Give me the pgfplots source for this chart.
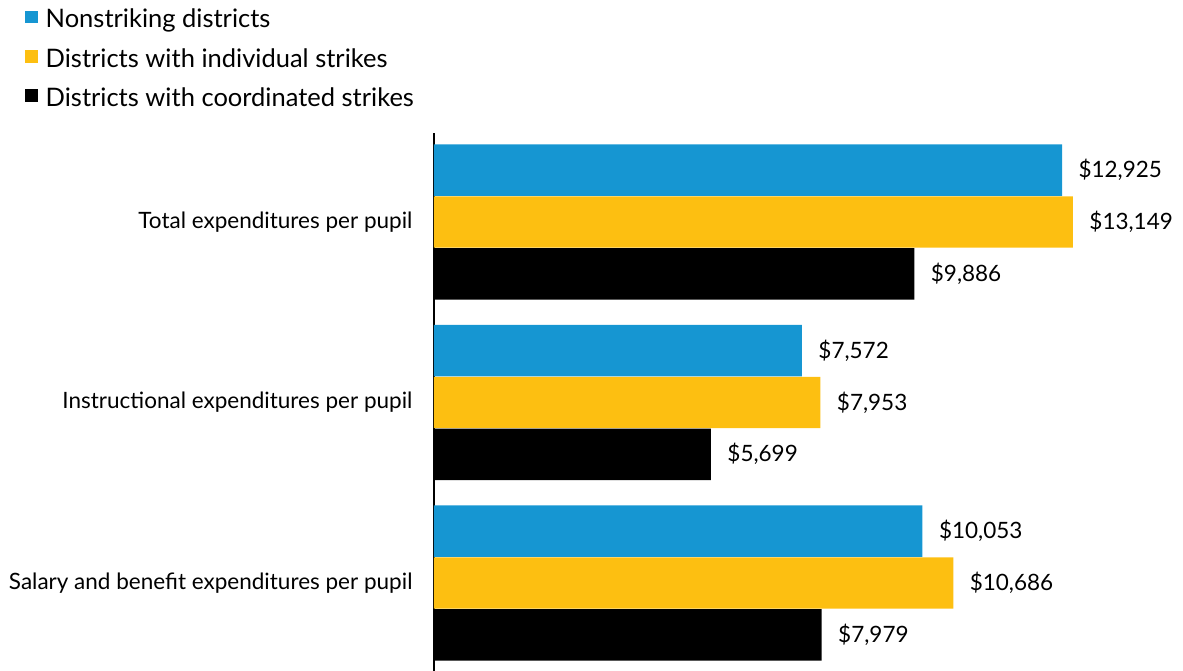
\documentclass[border=0pt]{standalone}
\usepackage{fontspec}
\setmainfont{Lato}
\usepackage{pgfplots}
\pgfplotsset{compat=1.18}
\definecolor{ublue}{HTML}{1696D2}
\definecolor{uyellow}{HTML}{FDBF11}
\begin{document}
\begin{tikzpicture}
\path[use as bounding box] (-434pt,0pt) rectangle (749pt,671pt);
\begin{axis}[
  at={(0pt,0pt)}, anchor=south west,
  scale only axis, width=749pt, height=538pt,
  xbar, bar width=0.285,
  xmin=0, xmax=15414, ymin=-0.4875, ymax=2.493,
  clip=false,
  axis x line=none, axis y line=left,
  y axis line style={-, line width=2.5pt, black},
  xtick=\empty,
  ytick={0,1,2},
  yticklabels={Salary and benefit expenditures per pupil, Instructional expenditures per pupil, Total expenditures per pupil},
  major tick length=0pt,
  yticklabel style={font=\fontsize{22.5}{27}\selectfont, xshift=-18pt},
  nodes near coords, point meta=explicit symbolic,
  nodes near coords style={font=\fontsize{22.5}{27}\selectfont, anchor=west, xshift=13pt, black},
  legend image code/.code={\fill[#1] (0pt,-4pt) rectangle (12.5pt,8.5pt);},
  legend style={at={(axis description cs:0,1)}, anchor=north west, xshift=-412pt, yshift=128pt,
    draw=none, fill=none, font=\fontsize{25.5}{30}\selectfont, row sep=15pt,
    /tikz/every odd column/.append style={column sep=6pt}},
  legend cell align=left,
]
\addplot[fill=ublue, draw=none, bar shift=0.287] coordinates {(10053,0) [\$10,053] (7572,1) [\$7,572] (12925,2) [\$12,925]};
\addplot[fill=uyellow, draw=none, bar shift=0] coordinates {(10686,0) [\$10,686] (7953,1) [\$7,953] (13149,2) [\$13,149]};
\addplot[fill=black, draw=none, bar shift=-0.287] coordinates {(7979,0) [\$7,979] (5699,1) [\$5,699] (9886,2) [\$9,886]};
\legend{Nonstriking districts, Districts with individual strikes, Districts with coordinated strikes}
\end{axis}
\end{tikzpicture}
\end{document}
